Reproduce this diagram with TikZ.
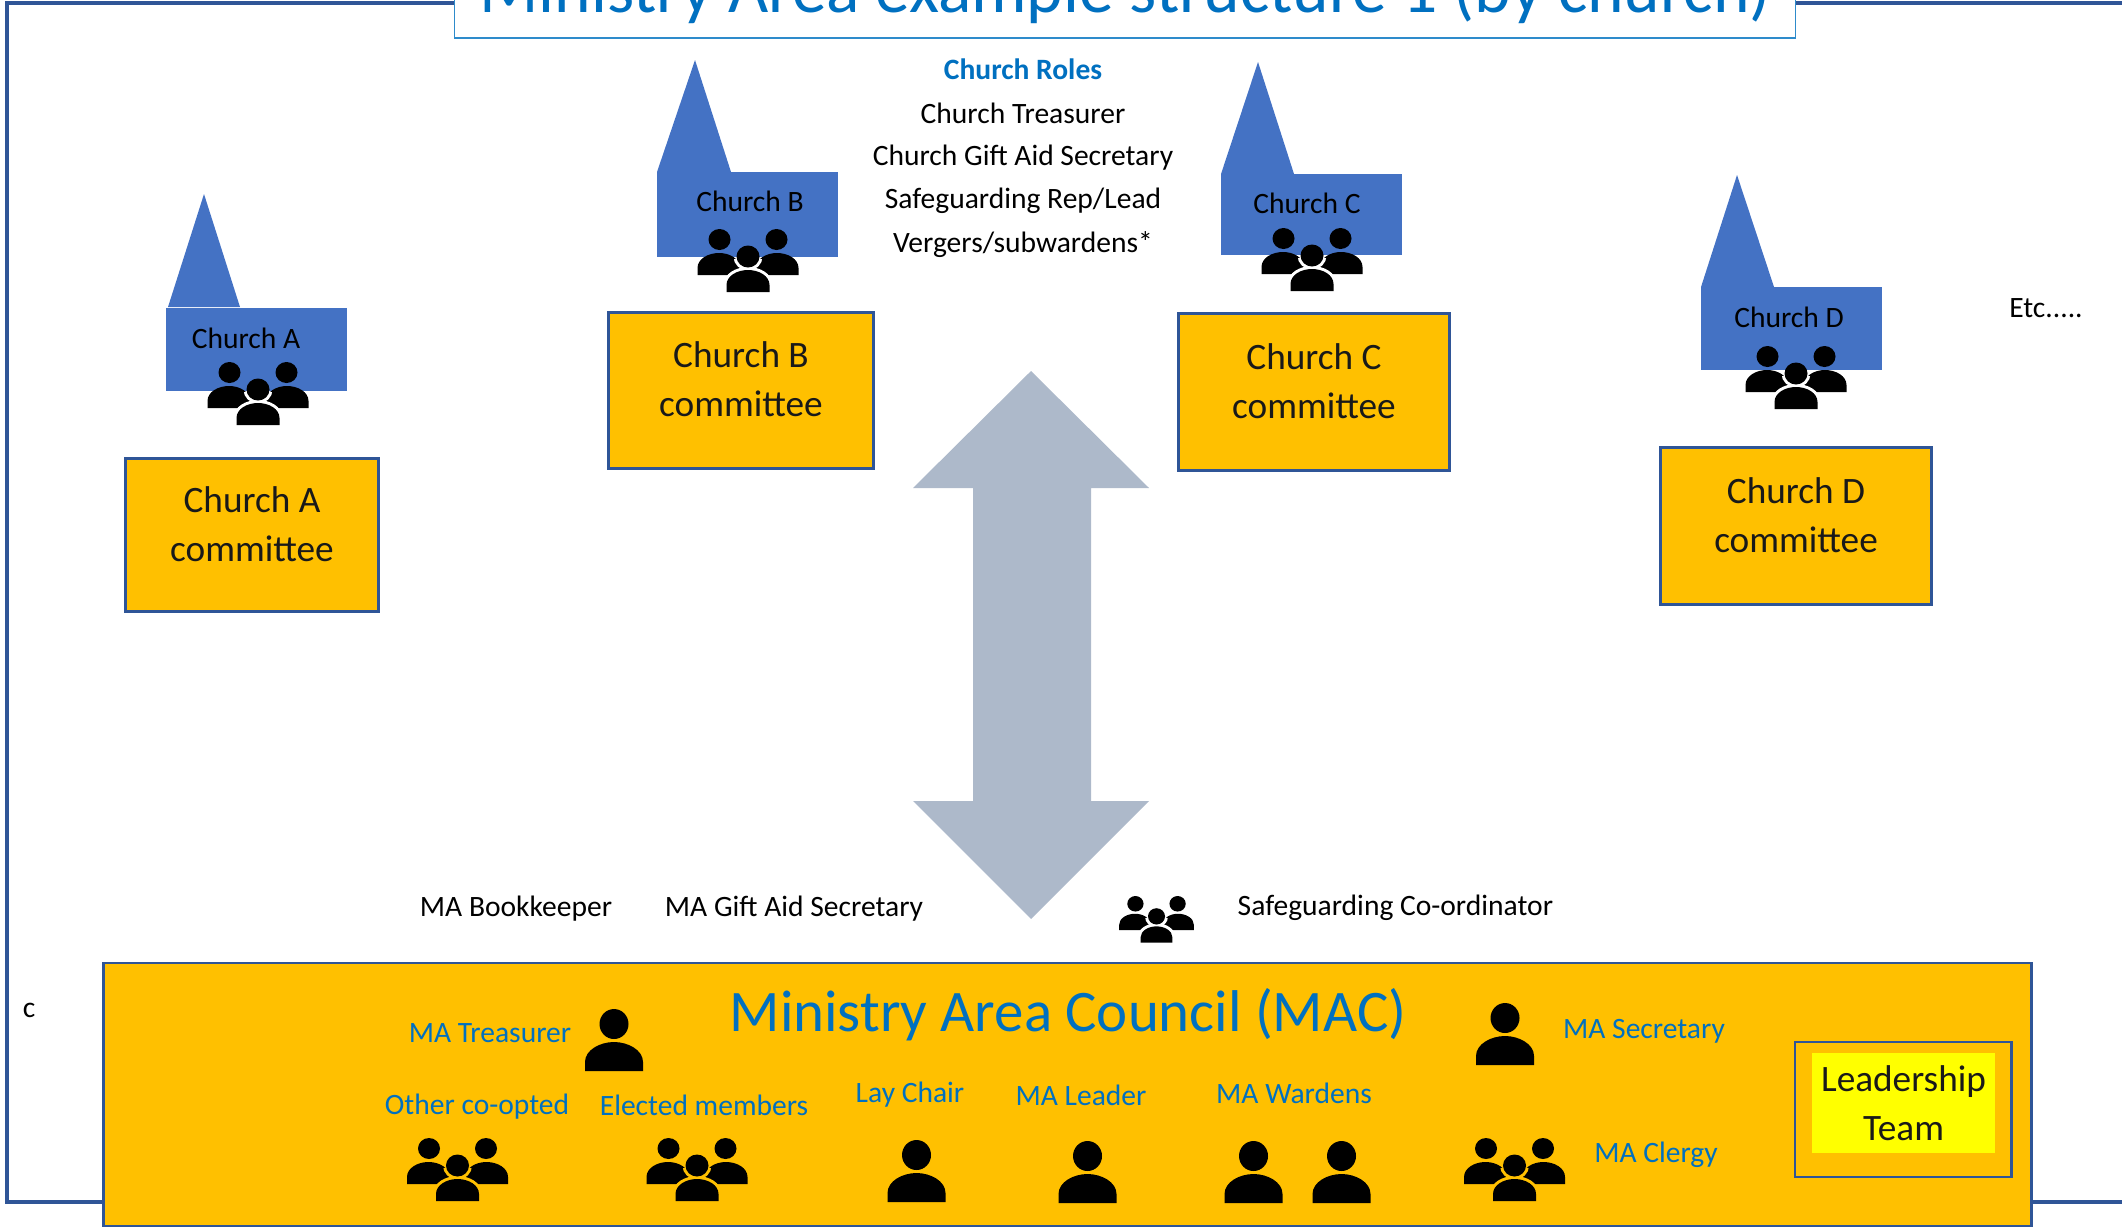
\documentclass[tikz,border=0pt]{standalone}
\usepackage{xcolor}
\definecolor{ChurchBlue}{HTML}{4472C4}
\definecolor{CouncilGold}{HTML}{FFC000}
\definecolor{FrameBlue}{HTML}{2F5597}
\definecolor{TitleBlue}{HTML}{0070C0}
\definecolor{TitleEdge}{HTML}{2E8BCB}
\definecolor{ArrowGrey}{HTML}{ADB9CA}
\definecolor{TeamYellow}{HTML}{FFFF00}
\usepackage{fontspec}
\setmainfont{Carlito}
\usepackage{tikz}
\newcommand{\halocolor}{white}
\tikzset{
	x=0.01cm,
	y=-0.01cm,
	halo/.code={\renewcommand{\halocolor}{#1}},
	committee/.style={draw=FrameBlue,fill=CouncilGold,line width=0.85pt,minimum width=2.53cm,minimum height=1.53cm,inner sep=0pt},
	committeetext/.style={align=center,inner sep=0pt,text=black!90,font=\fontsize{10.6}{13.9}\selectfont},
	churchname/.style={inner sep=0pt,text=black,font=\fontsize{8.4}{10}\selectfont},
	rolename/.style={inner sep=0pt,text=black,font=\fontsize{8.4}{10}\selectfont},
	councilname/.style={inner sep=0pt,text=TitleBlue,font=\fontsize{8.4}{10}\selectfont},
	person/.pic={
		\fill[black] (0,15) ellipse [x radius=14.5,y radius=15];
		\fill[black] (-29,62) -- (-29,53) .. controls (-29,41) and (-14,33) .. (0,33) .. controls (14,33) and (29,41) .. (29,53) -- (29,62) -- cycle;
	},
	people/.pic={
		\fill[black] (-28.5,10.5) ellipse [x radius=11,y radius=10.5];
		\fill[black] (28.5,10.5) ellipse [x radius=11,y radius=10.5];
		\fill[black] (-50.5,46) -- (-50.5,39) .. controls (-50.5,30) and (-40,24) .. (-29,24) .. controls (-18,24) and (-8,30) .. (-8,39) -- (-8,46) -- cycle;
		\fill[black] (50.5,46) -- (50.5,39) .. controls (50.5,30) and (40,24) .. (29,24) .. controls (18,24) and (8,30) .. (8,39) -- (8,46) -- cycle;
		\begin{scope}
			\clip (-51,30) rectangle (51,64);
			\draw[\halocolor,line width=1.7pt,fill=\halocolor] (0,27.5) ellipse [x radius=11.5,y radius=11];
		\end{scope}
		\draw[\halocolor,line width=1.7pt,fill=\halocolor] (-21.5,63) -- (-21.5,56) .. controls (-21.5,47) and (-11,41) .. (0,41) .. controls (11,41) and (21.5,47) .. (21.5,56) -- (21.5,63) -- cycle;
		\fill[black] (0,27.5) ellipse [x radius=11.5,y radius=11];
		\fill[black] (-21.5,63) -- (-21.5,56) .. controls (-21.5,47) and (-11,41) .. (0,41) .. controls (11,41) and (21.5,47) .. (21.5,56) -- (21.5,63) -- cycle;
	}
}

\begin{document}
\begin{tikzpicture}
		\path[use as bounding box,clip] (0,0) rectangle (2122,1227);
		
		% outer frame runs off the page on the right
		\draw[FrameBlue,line width=1.2pt] (2140,3) -- (7,3) -- (7,1202) -- (2140,1202);
		
		\node[draw=TitleEdge,fill=white,line width=0.5pt,minimum width=13.4cm,minimum height=0.8cm,inner sep=0pt] (titlebox) at (1125,-2) {};
		\node[anchor=base,inner sep=0pt,text=TitleBlue,font=\fontsize{19.76}{23}\selectfont] (title) at (1125,12) {Ministry Area example structure 1 (by church)};
		
		
		\fill[ChurchBlue] (204,194) -- (240,307) -- (168,307) -- cycle;
		\fill[ChurchBlue] (166,308) rectangle (347,391);
		\node[churchname] (churchA) at (246,338) {Church A};
		\pic at (258,362) {people};
		
		\fill[ChurchBlue] (695,60) -- (731,172) -- (657,172) -- cycle;
		\fill[ChurchBlue] (657,172) rectangle (838,257);
		\node[churchname] (churchB) at (750,201) {Church B};
		\pic at (748,229) {people};
		
		\fill[ChurchBlue] (1258,62) -- (1294,174) -- (1221,174) -- cycle;
		\fill[ChurchBlue] (1221,174) rectangle (1402,255);
		\node[churchname] (churchC) at (1307,203) {Church C};
		\pic at (1312,228) {people};
		
		\fill[ChurchBlue] (1737,175) -- (1774,287) -- (1701,287) -- cycle;
		\fill[ChurchBlue] (1701,287) rectangle (1882,370);
		\node[churchname] (churchD) at (1789,317) {Church D};
		\pic at (1796,346) {people};
		
		
		\node[committee] (committeeA) at (252,535) {};
		\node[committeetext] at (252,524) (committeeAtext) {Church A\\committee};
		\node[committee,minimum width=2.64cm,minimum height=1.56cm] (committeeB) at (741,390.5) {};
		\node[committeetext] at (741,379.5) (committeeBtext) {Church B\\committee};
		\node[committee,minimum width=2.70cm,minimum height=1.56cm] (committeeC) at (1314,392) {};
		\node[committeetext] at (1314,381) (committeeCtext) {Church C\\committee};
		\node[committee,minimum width=2.70cm,minimum height=1.56cm] (committeeD) at (1796,526) {};
		\node[committeetext] at (1796,515) (committeeDtext) {Church D\\committee};
		
		
		\node[rolename,text=TitleBlue,font=\fontsize{8.4}{10}\selectfont\bfseries] (rolesHead) at (1023,69) {Church Roles};
		\node[rolename] (roleTreasurer) at (1023,113) {Church Treasurer};
		\node[rolename] (roleGiftAid) at (1023,158) {Church Gift Aid Secretary};
		\node[rolename] (roleSafeguarding) at (1023,201) {Safeguarding Rep/Lead};
		\node[rolename] (roleVergers) at (1023,245) {Vergers/subwardens*};
		
		\node[rolename] (etc) at (2046,308) {Etc.....};
		\node[rolename] (stray) at (29,1010) {c};
		
		
		\fill[ArrowGrey] (1031,371) -- (1149,488) -- (1091,488) -- (1091,801) -- (1149,801) -- (1031,919) -- (913,801) -- (973,801) -- (973,488) -- (913,488) -- cycle;
		
		
		\node[rolename] (bookkeeper) at (516,909) {MA Bookkeeper};
		\node[rolename] (giftAid) at (794,909) {MA Gift Aid Secretary};
		\pic[scale=0.74] at (1156.5,896) {people};
		\node[rolename,anchor=west] (safeguarding) at (1237,908) {Safeguarding Co-ordinator};
		
		
		\node[draw=FrameBlue,fill=CouncilGold,line width=0.7pt,minimum width=19.27cm,minimum height=2.63cm,inner sep=0pt] (council) at (1067.5,1094.5) {};
		\node[inner sep=0pt,text=TitleBlue,font=\fontsize{16.75}{20}\selectfont] (councilTitle) at (1068,1015) {Ministry Area Council (MAC)};
		
		\node[councilname] (treasurer) at (490,1033) {MA Treasurer};
		\pic at (614,1009) {person};
		\node[councilname] (coopted) at (477,1107) {Other co-opted};
		\pic[halo=CouncilGold] at (457.5,1138) {people};
		\node[councilname] (elected) at (704,1105) {Elected members};
		\pic[halo=CouncilGold] at (697,1138) {people};
		\node[councilname] (layChair) at (910,1095) {Lay Chair};
		\pic at (916.5,1140) {person};
		\node[councilname] (leader) at (1081,1095) {MA Leader};
		\pic at (1087.5,1141) {person};
		\node[councilname] (wardens) at (1294,1093) {MA Wardens};
		\pic at (1253.5,1141) {person};
		\pic at (1341.5,1141) {person};
		\pic at (1505,1003) {person};
		\node[councilname] (secretary) at (1644,1031) {MA Secretary};
		\pic[halo=CouncilGold] at (1514.5,1138) {people};
		\node[councilname] (clergy) at (1656,1155) {MA Clergy};
		
		\node[draw=FrameBlue,line width=0.8pt,minimum width=2.16cm,minimum height=1.35cm,inner sep=0pt] (teamBox) at (1903,1109.5) {};
		\node[fill=TeamYellow,minimum width=1.83cm,minimum height=1cm,inner sep=0pt] (teamFill) at (1903.5,1103) {};
		\node[committeetext] (team) at (1903.5,1103) {Leadership\\Team};
\end{tikzpicture}
\end{document}
